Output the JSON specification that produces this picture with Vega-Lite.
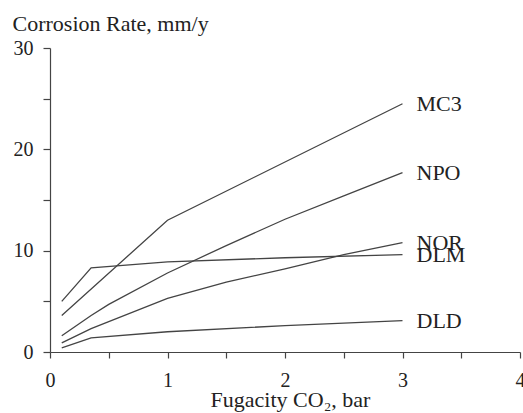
{
  "$schema": "https://vega.github.io/schema/vega-lite/v6.json",
  "autosize": "none",
  "width": 470,
  "height": 304,
  "padding": {"left": 50, "top": 48, "right": 3, "bottom": 61},
  "background": "white",
  "config": {
    "view": {"stroke": null},
    "font": "Liberation Serif",
    "axis": {"grid": false, "domainColor": "#444", "tickColor": "#444", "labelColor": "#222", "titleColor": "#222", "labelFont": "Liberation Serif", "titleFont": "Liberation Serif", "labelFontSize": 20, "titleFontSize": 22, "titleFontWeight": "normal", "domainWidth": 1.2, "tickWidth": 1.2}
  },
  "data": {
    "values": [
      {"series": "MC3", "x": 0.1, "y": 3.6},
      {"series": "MC3", "x": 1, "y": 13.0},
      {"series": "MC3", "x": 3, "y": 24.5},
      {"series": "NPO", "x": 0.1, "y": 1.6},
      {"series": "NPO", "x": 0.35, "y": 3.6},
      {"series": "NPO", "x": 0.5, "y": 4.7},
      {"series": "NPO", "x": 1, "y": 7.8},
      {"series": "NPO", "x": 1.5, "y": 10.5},
      {"series": "NPO", "x": 2, "y": 13.1},
      {"series": "NPO", "x": 2.5, "y": 15.4},
      {"series": "NPO", "x": 3, "y": 17.7},
      {"series": "NOR", "x": 0.1, "y": 0.9},
      {"series": "NOR", "x": 0.35, "y": 2.3},
      {"series": "NOR", "x": 0.5, "y": 3.0},
      {"series": "NOR", "x": 1, "y": 5.3},
      {"series": "NOR", "x": 1.5, "y": 6.9},
      {"series": "NOR", "x": 2, "y": 8.2},
      {"series": "NOR", "x": 2.5, "y": 9.6},
      {"series": "NOR", "x": 3, "y": 10.8},
      {"series": "DLM", "x": 0.1, "y": 5.0},
      {"series": "DLM", "x": 0.35, "y": 8.3},
      {"series": "DLM", "x": 1, "y": 8.9},
      {"series": "DLM", "x": 2, "y": 9.3},
      {"series": "DLM", "x": 3, "y": 9.6},
      {"series": "DLD", "x": 0.1, "y": 0.4},
      {"series": "DLD", "x": 0.35, "y": 1.4},
      {"series": "DLD", "x": 1, "y": 2.0},
      {"series": "DLD", "x": 2, "y": 2.6},
      {"series": "DLD", "x": 3, "y": 3.1}
    ]
  },
  "layer": [
    {
      "mark": {"type": "line", "color": "#444", "strokeWidth": 1.3},
      "encoding": {
        "x": {
          "field": "x", "type": "quantitative",
          "scale": {"domain": [0, 4], "nice": false, "zero": false},
          "axis": {
            "values": [0, 0.5, 1, 1.5, 2, 2.5, 3, 3.5, 4],
            "labelExpr": "datum.value % 1 === 0 ? format(datum.value, 'd') : ''",
            "tickSize": 6, "labelPadding": 12, "labelFlush": false, "labelOverlap": false, "labelBound": false,
            "title": "Fugacity CO₂, bar",
            "titleX": 240, "titleY": 54, "titleBaseline": "alphabetic", "titleAnchor": "middle"
          }
        },
        "y": {
          "field": "y", "type": "quantitative",
          "scale": {"domain": [0, 30], "nice": false},
          "axis": {
            "values": [0, 5, 10, 15, 20, 25, 30],
            "labelExpr": "datum.value % 10 === 0 ? format(datum.value, 'd') : ''",
            "tickSize": 7, "labelPadding": 10, "labelFlush": false, "labelOverlap": false,
            "title": "Corrosion Rate, mm/y",
            "titleAngle": 0, "titleAlign": "left", "titleBaseline": "alphabetic",
            "titleX": -38, "titleY": -18
          }
        },
        "detail": {"field": "series", "type": "nominal"},
        "order": {"field": "x", "type": "quantitative"}
      }
    },
    {
      "transform": [{"filter": "datum.x === 3"}],
      "mark": {"type": "text", "align": "left", "baseline": "middle", "dx": 14, "fontSize": 22, "font": "Liberation Serif", "color": "#222"},
      "encoding": {
        "x": {"field": "x", "type": "quantitative"},
        "y": {"field": "y", "type": "quantitative"},
        "text": {"field": "series", "type": "nominal"}
      }
    }
  ]
}
